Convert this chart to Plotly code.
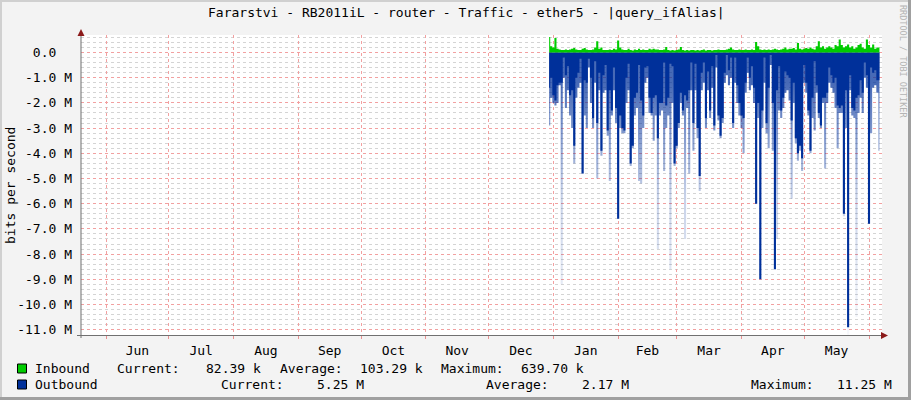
import pandas as pd
import plotly.graph_objects as go

# ---------------- data ----------------
title_text = "Fararstvi - RB2011iL - router - Traffic - ether5 - |query_ifAlias|"
y_label = "bits per second"
first_day = "2014-12-30"          # first daily sample

# inbound (Mbit/s, plotted upward)
inbound_m = [
    0.62, 0.25, 0.20, 0.58, 0.15, 0.12, 0.10, 0.10, 0.12, 0.10,
    0.12, 0.15, 0.18, 0.12, 0.10, 0.10, 0.15, 0.18, 0.12, 0.10,
    0.10, 0.12, 0.20, 0.45, 0.15, 0.20, 0.10, 0.10, 0.10, 0.12,
    0.10, 0.15, 0.12, 0.48, 0.20, 0.12, 0.10, 0.10, 0.15, 0.10,
    0.08, 0.12, 0.10, 0.15, 0.10, 0.12, 0.10, 0.10, 0.15, 0.12,
    0.15, 0.12, 0.12, 0.10, 0.10, 0.12, 0.22, 0.10, 0.08, 0.10,
    0.08, 0.10, 0.12, 0.22, 0.10, 0.08, 0.10, 0.08, 0.10, 0.10,
    0.08, 0.10, 0.08, 0.10, 0.12, 0.08, 0.10, 0.10, 0.08, 0.10,
    0.10, 0.12, 0.10, 0.10, 0.10, 0.12, 0.15, 0.20, 0.12, 0.10,
    0.10, 0.12, 0.10, 0.10, 0.12, 0.10, 0.10, 0.12, 0.10, 0.42,
    0.25, 0.12, 0.10, 0.12, 0.10, 0.12, 0.10, 0.12, 0.15, 0.12,
    0.10, 0.12, 0.15, 0.20, 0.12, 0.15, 0.15, 0.18, 0.12, 0.38,
    0.15, 0.12, 0.15, 0.18, 0.15, 0.20, 0.15, 0.12, 0.25, 0.45,
    0.20, 0.25, 0.15, 0.20, 0.25, 0.20, 0.15, 0.30, 0.25, 0.52,
    0.30, 0.20, 0.25, 0.32, 0.20, 0.25, 0.15, 0.20, 0.30, 0.35,
    0.20, 0.15, 0.52, 0.30, 0.20, 0.32, 0.15, 0.20, 0.20,
]

# outbound typical level per day (Mbit/s, plotted downward, solid)
outbound_avg_m = [
    1.4, 1.0, 1.7, 1.9, 1.3, 1.2, 1.2, 0.2, 0.9, 0.55,
    1.7, 1.5, 3.7, 1.0, 0.8, 0.25, 4.8, 1.1, 1.2, 0.25,
    1.0, 2.6, 0.35, 2.8, 0.8, 3.9, 0.9, 0.5, 3.1, 1.5,
    2.3, 0.6, 2.2, 6.6, 2.5, 3.0, 3.1, 1.0, 0.45, 4.4,
    3.7, 1.8, 1.6, 0.5, 1.9, 2.5, 0.6, 0.55, 1.8, 2.4,
    1.8, 1.7, 3.4, 2.0, 2.0, 0.4, 2.1, 1.8, 0.45, 0.55,
    4.4, 3.7, 2.8, 1.6, 2.3, 1.7, 1.9, 1.5, 0.4, 2.8,
    0.45, 3.0, 4.9, 0.8, 0.4, 2.6, 0.75, 2.3, 0.55, 2.9,
    0.1, 2.5, 3.3, 2.6, 0.8, 0.1, 0.7, 0.2, 2.8, 0.2,
    1.3, 2.0, 2.5, 2.6, 1.2, 0.2, 1.0, 0.55, 1.4, 6.0,
    2.0, 9.0, 2.3, 0.2, 2.8, 1.4, 0.1, 2.0, 8.6, 1.5,
    0.55, 2.3, 1.8, 0.75, 0.9, 1.0, 2.7, 1.2, 3.4, 4.0,
    3.7, 4.2, 0.5, 1.2, 2.3, 3.9, 1.8, 0.35, 1.3, 2.4,
    2.9, 1.8, 1.8, 1.6, 0.6, 0.9, 1.2, 1.0, 2.1, 2.2,
    2.1, 6.4, 1.5, 10.9, 0.9, 2.2, 2.3, 1.8, 1.7, 1.1,
    1.6, 0.4, 0.9, 6.8, 0.6, 0.8, 0.7, 1.1, 1.1,
]

# outbound short peaks per day (Mbit/s, faded tail)
outbound_peak_m = [
    2.9, 1.8, 2.0, 2.1, 2.0, 1.3, 9.2, 1.0, 2.2, 1.5,
    2.5, 3.0, 4.4, 1.8, 1.4, 1.2, 4.8, 2.5, 3.0, 0.6,
    2.0, 3.0, 1.2, 5.0, 1.5, 4.1, 1.6, 1.5, 3.3, 5.1,
    2.5, 1.5, 2.8, 6.6, 3.0, 3.2, 3.2, 2.0, 1.5, 4.5,
    3.8, 2.5, 2.2, 5.1, 5.2, 3.0, 1.2, 1.0, 2.4, 2.5,
    3.5, 2.5, 7.8, 2.5, 2.3, 4.7, 3.0, 2.5, 8.6, 2.0,
    4.5, 3.8, 3.0, 2.0, 2.5, 7.4, 2.2, 4.8, 1.5, 3.9,
    1.5, 3.4, 5.5, 1.5, 1.2, 3.0, 1.5, 2.6, 1.4, 3.1,
    0.6, 2.7, 3.4, 2.8, 1.2, 0.9, 1.3, 1.0, 3.0, 1.2,
    2.0, 2.5, 3.0, 4.0, 1.6, 0.8, 1.5, 1.3, 2.0, 6.0,
    2.6, 9.0, 3.0, 1.2, 3.2, 3.8, 0.5, 3.9, 8.6, 7.4,
    2.3, 2.6, 2.2, 1.6, 1.5, 1.9, 5.8, 2.0, 3.6, 4.3,
    3.9, 4.7, 1.2, 1.6, 2.5, 4.0, 2.6, 3.1, 1.6, 2.6,
    3.0, 2.0, 4.6, 2.0, 1.2, 1.4, 1.6, 2.2, 3.8, 2.4,
    2.4, 6.5, 3.0, 11.25, 1.5, 2.5, 2.6, 10.5, 2.4, 1.8,
    2.4, 1.0, 1.4, 6.8, 3.2, 1.4, 1.3, 1.6, 3.9,
]

y_tick_vals = [0, -1, -2, -3, -4, -5, -6, -7, -8, -9, -10, -11]
y_tick_text = ["0.0\u00a0\u00a0", "-1.0 M", "-2.0 M", "-3.0 M", "-4.0 M", "-5.0 M",
               "-6.0 M", "-7.0 M", "-8.0 M", "-9.0 M", "-10.0 M", "-11.0 M"]

legend_names = ["Inbound", "Outbound"]
stat_labels = ["Current:", "Average:", "Maximum:"]
inbound_stats = ["82.39 k", "103.29 k", "639.70 k"]
outbound_stats = ["5.25 M", "2.17 M", "11.25 M"]

# ---------------- styling ----------------
FONT = "DejaVu Sans Mono"
GREEN = "#00cc00"
BLUE = "#00309a"
W, H = 911, 400
L, R, T, B = 81, 882, 35, 335


def px_x(px):
    return (px - L) / (R - L)


def px_y(py):
    return (B - py) / (B - T)


days = pd.date_range(first_day, periods=len(outbound_avg_m), freq="D")
px_per_day = (869 - 106) / 365.0
x_left = pd.Timestamp("2014-06-01") - pd.Timedelta(days=(106 - L) / px_per_day)
x_right = pd.Timestamp("2015-06-01") + pd.Timedelta(days=(R - 869) / px_per_day)

fig = go.Figure()
fig.add_trace(go.Scatter(
    x=days, y=[-v for v in outbound_peak_m], mode="lines",
    line=dict(width=0, shape="hvh"), fill="tozeroy",
    fillgradient=dict(type="vertical",
                      colorscale=[[0, "rgba(0,48,154,0.03)"], [0.55, "rgba(0,48,154,0.22)"],
                                  [1, "rgba(0,48,154,0.72)"]],
                      start=-11.25, stop=-1.2),
    hoverinfo="skip"))
fig.add_trace(go.Scatter(
    x=days, y=[-v for v in outbound_avg_m], mode="lines",
    line=dict(width=0, shape="hvh"), fill="tozeroy", fillcolor=BLUE,
    hoverinfo="skip"))
fig.add_trace(go.Scatter(
    x=days, y=inbound_m, mode="lines",
    line=dict(width=0, shape="hvh"), fill="tozeroy", fillcolor=GREEN,
    hoverinfo="skip"))

fig.update_layout(
    width=W, height=H, autosize=False,
    margin=dict(l=L, r=W - R, t=T, b=H - B, pad=0),
    paper_bgcolor="#f3f3f3", plot_bgcolor="#ffffff",
    showlegend=False,
    font=dict(family=FONT, size=13, color="#000000"),
)
fig.update_xaxes(
    type="date", range=[x_left, x_right],
    tick0="2014-06-01", dtick="M1", tickformat="%b", ticklabelmode="period",
    showgrid=True, gridcolor="#f2a0a0", griddash="dot", gridwidth=1,
    ticks="outside", ticklen=3, tickcolor="#e89090", tickwidth=1,
    tickfont=dict(family=FONT, size=13, color="#000000"),
    showline=False, zeroline=False, fixedrange=True,
)
fig.update_yaxes(
    range=[-(B - 52.5) / 25.2, (52.5 - T) / 25.2],
    tickvals=y_tick_vals, ticktext=y_tick_text,
    showgrid=True, gridcolor="#f2a0a0", griddash="dot", gridwidth=1,
    minor=dict(dtick=0.2, tick0=0, showgrid=True, gridcolor="#d4d4d4",
               griddash="dot", gridwidth=1),
    ticks="", ticklabelstandoff=8,
    tickfont=dict(family=FONT, size=13, color="#000000"),
    showline=False, zeroline=False, fixedrange=True,
)

shapes = []
# frame
shapes.append(dict(type="rect", xref="paper", yref="paper",
                   x0=px_x(908), x1=px_x(911), y0=px_y(400), y1=px_y(0),
                   fillcolor="#a0a0a0", line=dict(width=0), layer="above"))
shapes.append(dict(type="rect", xref="paper", yref="paper",
                   x0=px_x(0), x1=px_x(911), y0=px_y(400), y1=px_y(397),
                   fillcolor="#a0a0a0", line=dict(width=0), layer="above"))
shapes.append(dict(type="rect", xref="paper", yref="paper",
                   x0=px_x(0), x1=px_x(2), y0=px_y(397), y1=px_y(0),
                   fillcolor="#d0d0d0", line=dict(width=0), layer="above"))
shapes.append(dict(type="rect", xref="paper", yref="paper",
                   x0=px_x(0), x1=px_x(908), y0=px_y(2), y1=px_y(0),
                   fillcolor="#d0d0d0", line=dict(width=0), layer="above"))
# axes
shapes.append(dict(type="line", xref="paper", yref="paper",
                   x0=px_x(81), x1=px_x(81), y0=px_y(338), y1=px_y(33),
                   line=dict(color="#707070", width=1), layer="above"))
shapes.append(dict(type="line", xref="paper", yref="paper",
                   x0=px_x(77), x1=px_x(884), y0=px_y(335.5), y1=px_y(335.5),
                   line=dict(color="#707070", width=1), layer="above"))
# arrows
shapes.append(dict(type="path", xref="paper", yref="paper",
                   path="M {a},{b} L {c},{d} L {e},{f} Z".format(
                       a=px_x(81), b=px_y(29), c=px_x(77.5), d=px_y(36),
                       e=px_x(84.5), f=px_y(36)),
                   fillcolor="#8b1a1a", line=dict(width=0), layer="above"))
shapes.append(dict(type="path", xref="paper", yref="paper",
                   path="M {a},{b} L {c},{d} L {e},{f} Z".format(
                       a=px_x(888), b=px_y(335.5), c=px_x(881), d=px_y(332),
                       e=px_x(881), f=px_y(339)),
                   fillcolor="#8b1a1a", line=dict(width=0), layer="above"))
# legend squares
for yy, col in [(364, GREEN), (380, BLUE)]:
    shapes.append(dict(type="rect", xref="paper", yref="paper",
                       x0=px_x(17.5), x1=px_x(26.5), y0=px_y(yy + 9), y1=px_y(yy),
                       fillcolor=col, line=dict(color="#000000", width=1), layer="above"))
fig.update_layout(shapes=shapes)

ann = []


def text(px, py, s, anchor="left", size=13, color="#000000", angle=0):
    ann.append(dict(xref="paper", yref="paper", x=px_x(px), y=px_y(py), text=s,
                    showarrow=False, xanchor=anchor, yanchor="middle",
                    textangle=angle, borderpad=0,
                    font=dict(family=FONT, size=size, color=color)))


text(466, 12, title_text, anchor="center")
text(10, 186, y_label, anchor="center", angle=-90)
text(903, 61, "RRDTOOL / TOBI OETIKER", anchor="center", size=8.5, color="#b4b4b4", angle=90)

row1_x = [116, 204.5, 279, 358.5, 440.4, 520]
row2_x = [219.6, 315.5, 485, 581, 750, 836]
text(34, 368, legend_names[0])
text(34, 384, legend_names[1])
for k in range(3):
    text(row1_x[2 * k], 368, stat_labels[k])
    text(row1_x[2 * k + 1], 368, inbound_stats[k])
    text(row2_x[2 * k], 384, stat_labels[k])
    text(row2_x[2 * k + 1], 384, outbound_stats[k])
fig.update_layout(annotations=ann)

fig.write_html(
    "out.html",
    config={"displayModeBar": False, "staticPlot": True},
    post_script="document.body.style.margin='0';document.body.style.overflow='hidden';",
)
